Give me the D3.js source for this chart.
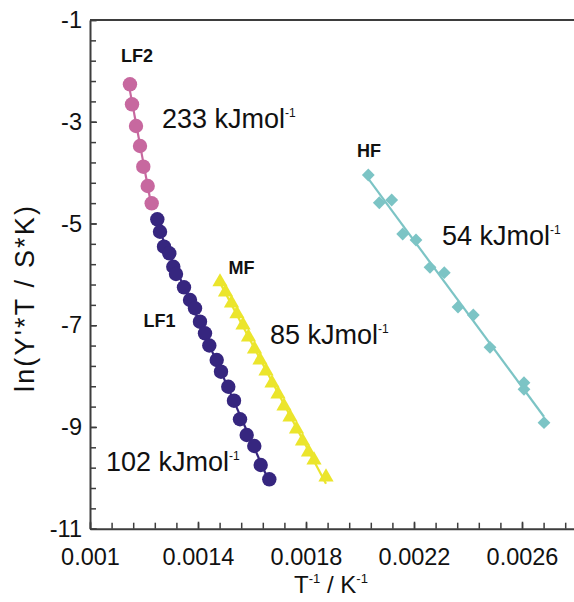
<!DOCTYPE html>
<html>
<head>
<meta charset="utf-8">
<script src="https://cdn.jsdelivr.net/npm/d3@7/dist/d3.min.js"></script>
<style>
  html, body { margin: 0; padding: 0; background: #fff; }
  svg { display: block; font-family: "Liberation Sans", Arial, sans-serif; }
</style>
</head>
<body>
<svg id="chart" width="574" height="602"></svg>
<script>
// Arrhenius plot: ln(Y'T/SK) against inverse temperature for four relaxation processes

// LF2 process (circles)
const lf2InvT = [0.001148, 0.0011556, 0.0011704, 0.0011852, 0.0011974, 0.0012137, 0.0012285];
const lf2LnY  = [-2.264, -2.657, -3.084, -3.477, -3.884, -4.263, -4.603];

// LF1 process (circles)
const lf1InvT = [0.0012493, 0.0012593, 0.0012741, 0.0012937, 0.0013085, 0.0013185, 0.0013481,
                 0.0013704, 0.0013889, 0.0014074, 0.0014259, 0.0014419, 0.0014693, 0.0014852,
                 0.0015122, 0.0015333, 0.0015556, 0.0015804, 0.0016085, 0.0016322, 0.0016641];
const lf1LnY  = [-4.918, -5.162, -5.456, -5.586, -5.850, -5.993, -6.255,
                 -6.504, -6.667, -6.931, -7.159, -7.399, -7.684, -7.914,
                 -8.209, -8.484, -8.849, -9.158, -9.374, -9.748, -10.029];

// MF process (triangles)
const mfInvT = [0.0014815, 0.0015019, 0.0015241, 0.0015444, 0.0015667, 0.001587, 0.0016093,
                0.0016296, 0.0016519, 0.0016741, 0.0016963, 0.0017185, 0.0017407, 0.0017648,
                0.001787, 0.0018093, 0.0018296, 0.0018741];
const mfLnY  = [-6.150, -6.347, -6.563, -6.779, -6.996, -7.232, -7.468,
                -7.684, -7.900, -8.136, -8.352, -8.588, -8.804, -9.040,
                -9.276, -9.492, -9.650, -9.984];

// HF process (diamonds)
const hfInvT = [0.0020307, 0.0020715, 0.0021174, 0.0021581, 0.0022074, 0.0022593, 0.0023122,
                0.002363, 0.0024196, 0.0024815, 0.0026074, 0.0026074, 0.0026815];
const hfLnY  = [-4.047, -4.592, -4.538, -5.207, -5.325, -5.861, -5.968,
                -6.642, -6.799, -7.434, -8.130, -8.260, -8.916];

// Axis ticks and labels
const xMajorTicks = [0.001, 0.0014, 0.0018, 0.0022, 0.0026];
const xTickLabels = ["0.001", "0.0014", "0.0018", "0.0022", "0.0026"];
const yMajorTicks = [-11, -9, -7, -5, -3, -1];
const yTickLabels = ["-11", "-9", "-7", "-5", "-3", "-1"];

// Activation energies (kJ/mol) per process
const seriesNames = ["LF2", "LF1", "MF", "HF"];
const activationEnergies = [233, 102, 85, 54];

const svg = d3.select("#chart");
const plotLeft = 90, plotRight = 576, plotTop = 20, plotBottom = 528.7;

const x = d3.scaleLinear().domain([0.001, 0.0028]).range([plotLeft, plotRight]);
const y = d3.scaleLinear().domain([-11, -1]).range([plotBottom, plotTop]);

const axisColor = "#3d3d3d";
const fontFam = "'Liberation Sans', Arial, sans-serif";

// minor ticks: four subdivisions between major ticks
const xMinor = d3.range(0, 23).map(i => 0.001 + i * 0.00008).filter(v => v <= 0.0028 + 1e-9);
const yMinor = d3.range(0, 26).map(i => -11 + i * 0.4).filter(v => v <= -1 + 1e-9);

// x axis
const gx = svg.append("g").attr("transform", `translate(0,${plotBottom})`);
gx.call(d3.axisBottom(x).tickValues(xMinor).tickSizeInner(-6).tickSizeOuter(0).tickFormat(""));
gx.append("g").call(d3.axisBottom(x).tickValues(xMajorTicks).tickSizeInner(-7).tickSizeOuter(0)
  .tickPadding(20).tickFormat((d, i) => xTickLabels[i]));
gx.selectAll("g > g > path.domain").remove();

// y axis
const gy = svg.append("g").attr("transform", `translate(${plotLeft},0)`);
gy.call(d3.axisLeft(y).tickValues(yMinor).tickSizeInner(-6).tickSizeOuter(0).tickFormat(""));
gy.append("g").call(d3.axisLeft(y).tickValues(yMajorTicks).tickSizeInner(-7).tickSizeOuter(0)
  .tickPadding(8).tickFormat((d, i) => yTickLabels[i]));
gy.selectAll("g > g > path.domain").remove();

svg.selectAll(".domain").attr("stroke", axisColor).attr("stroke-width", 2);
svg.selectAll(".tick line").attr("stroke", axisColor).attr("stroke-width", 1.5);
svg.selectAll(".tick text").attr("fill", "#111").attr("font-size", 23.5).attr("font-family", fontFam);

// top frame line
svg.append("line")
  .attr("x1", plotLeft).attr("x2", plotRight).attr("y1", plotTop).attr("y2", plotTop)
  .attr("stroke", axisColor).attr("stroke-width", 2);

// least-squares fit for each process
function fit(xs, ys) {
  const mx = d3.mean(xs), my = d3.mean(ys);
  const sxy = d3.sum(xs, (v, i) => (v - mx) * (ys[i] - my));
  const sxx = d3.sum(xs, v => (v - mx) * (v - mx));
  const b = sxy / sxx, a = my - b * mx;
  const x0 = d3.min(xs), x1 = d3.max(xs);
  return [[x0, a + b * x0], [x1, a + b * x1]];
}

const series = [
  { xs: lf2InvT, ys: lf2LnY, color: "#c7689f", symbol: "circle" },
  { xs: lf1InvT, ys: lf1LnY, color: "#36267f", symbol: "circle" },
  { xs: mfInvT,  ys: mfLnY,  color: "#ebe52c", symbol: "triangle" },
  { xs: hfInvT,  ys: hfLnY,  color: "#7cc4c5", symbol: "diamond" }
];

const line = d3.line().x(d => x(d[0])).y(d => y(d[1]));

series.forEach(s => {
  svg.append("path")
    .attr("d", line(fit(s.xs, s.ys)))
    .attr("fill", "none")
    .attr("stroke", s.color)
    .attr("stroke-width", 2.2);
});

series.forEach(s => {
  const pts = s.xs.map((v, i) => [v, s.ys[i]]);
  const g = svg.append("g");
  if (s.symbol === "circle") {
    g.selectAll("circle").data(pts).join("circle")
      .attr("cx", d => x(d[0])).attr("cy", d => y(d[1])).attr("r", 7.2)
      .attr("fill", s.color);
  } else if (s.symbol === "triangle") {
    const tri = d3.symbol().type(d3.symbolTriangle).size(100)();
    g.selectAll("path").data(pts).join("path")
      .attr("d", tri)
      .attr("transform", d => `translate(${x(d[0])},${y(d[1])})`)
      .attr("fill", s.color);
  } else {
    const sq = d3.symbol().type(d3.symbolSquare).size(82)();
    g.selectAll("path").data(pts).join("path")
      .attr("d", sq)
      .attr("transform", d => `translate(${x(d[0])},${y(d[1])}) rotate(45)`)
      .attr("fill", s.color);
  }
});

// process names
const namePos = [[137, 61.7], [159.5, 326.7], [241.5, 273.5], [369, 156.7]];
seriesNames.forEach((n, i) => {
  svg.append("text")
    .attr("x", namePos[i][0]).attr("y", namePos[i][1])
    .attr("text-anchor", "middle")
    .attr("font-size", 18).attr("font-weight", "bold")
    .attr("font-family", fontFam).attr("fill", "#111")
    .text(n);
});

// activation energy annotations
const energyPos = [[162, 128], [106, 471], [270, 344], [442, 245]];
activationEnergies.forEach((e, i) => {
  const t = svg.append("text")
    .attr("x", energyPos[i][0]).attr("y", energyPos[i][1])
    .attr("font-size", 27).attr("font-family", fontFam).attr("fill", "#111");
  t.append("tspan").text(`${e} kJmol`);
  t.append("tspan").attr("font-size", 12).attr("dy", -11).text("-1");
});

// axis titles
svg.append("text")
  .attr("transform", "translate(34,299) rotate(-90)")
  .attr("text-anchor", "middle")
  .attr("font-size", 27).attr("font-family", fontFam).attr("fill", "#111")
  .attr("textLength", 186).attr("lengthAdjust", "spacing")
  .text("ln(Y'*T / S*K)");

const xt = svg.append("text")
  .attr("x", 331).attr("y", 593)
  .attr("text-anchor", "middle")
  .attr("font-size", 24).attr("font-family", fontFam).attr("fill", "#111");
xt.append("tspan").text("T");
xt.append("tspan").attr("font-size", 13).attr("dy", -10).text("-1");
xt.append("tspan").attr("dy", 10).text(" / K");
xt.append("tspan").attr("font-size", 13).attr("dy", -10).text("-1");
</script>
</body>
</html>
